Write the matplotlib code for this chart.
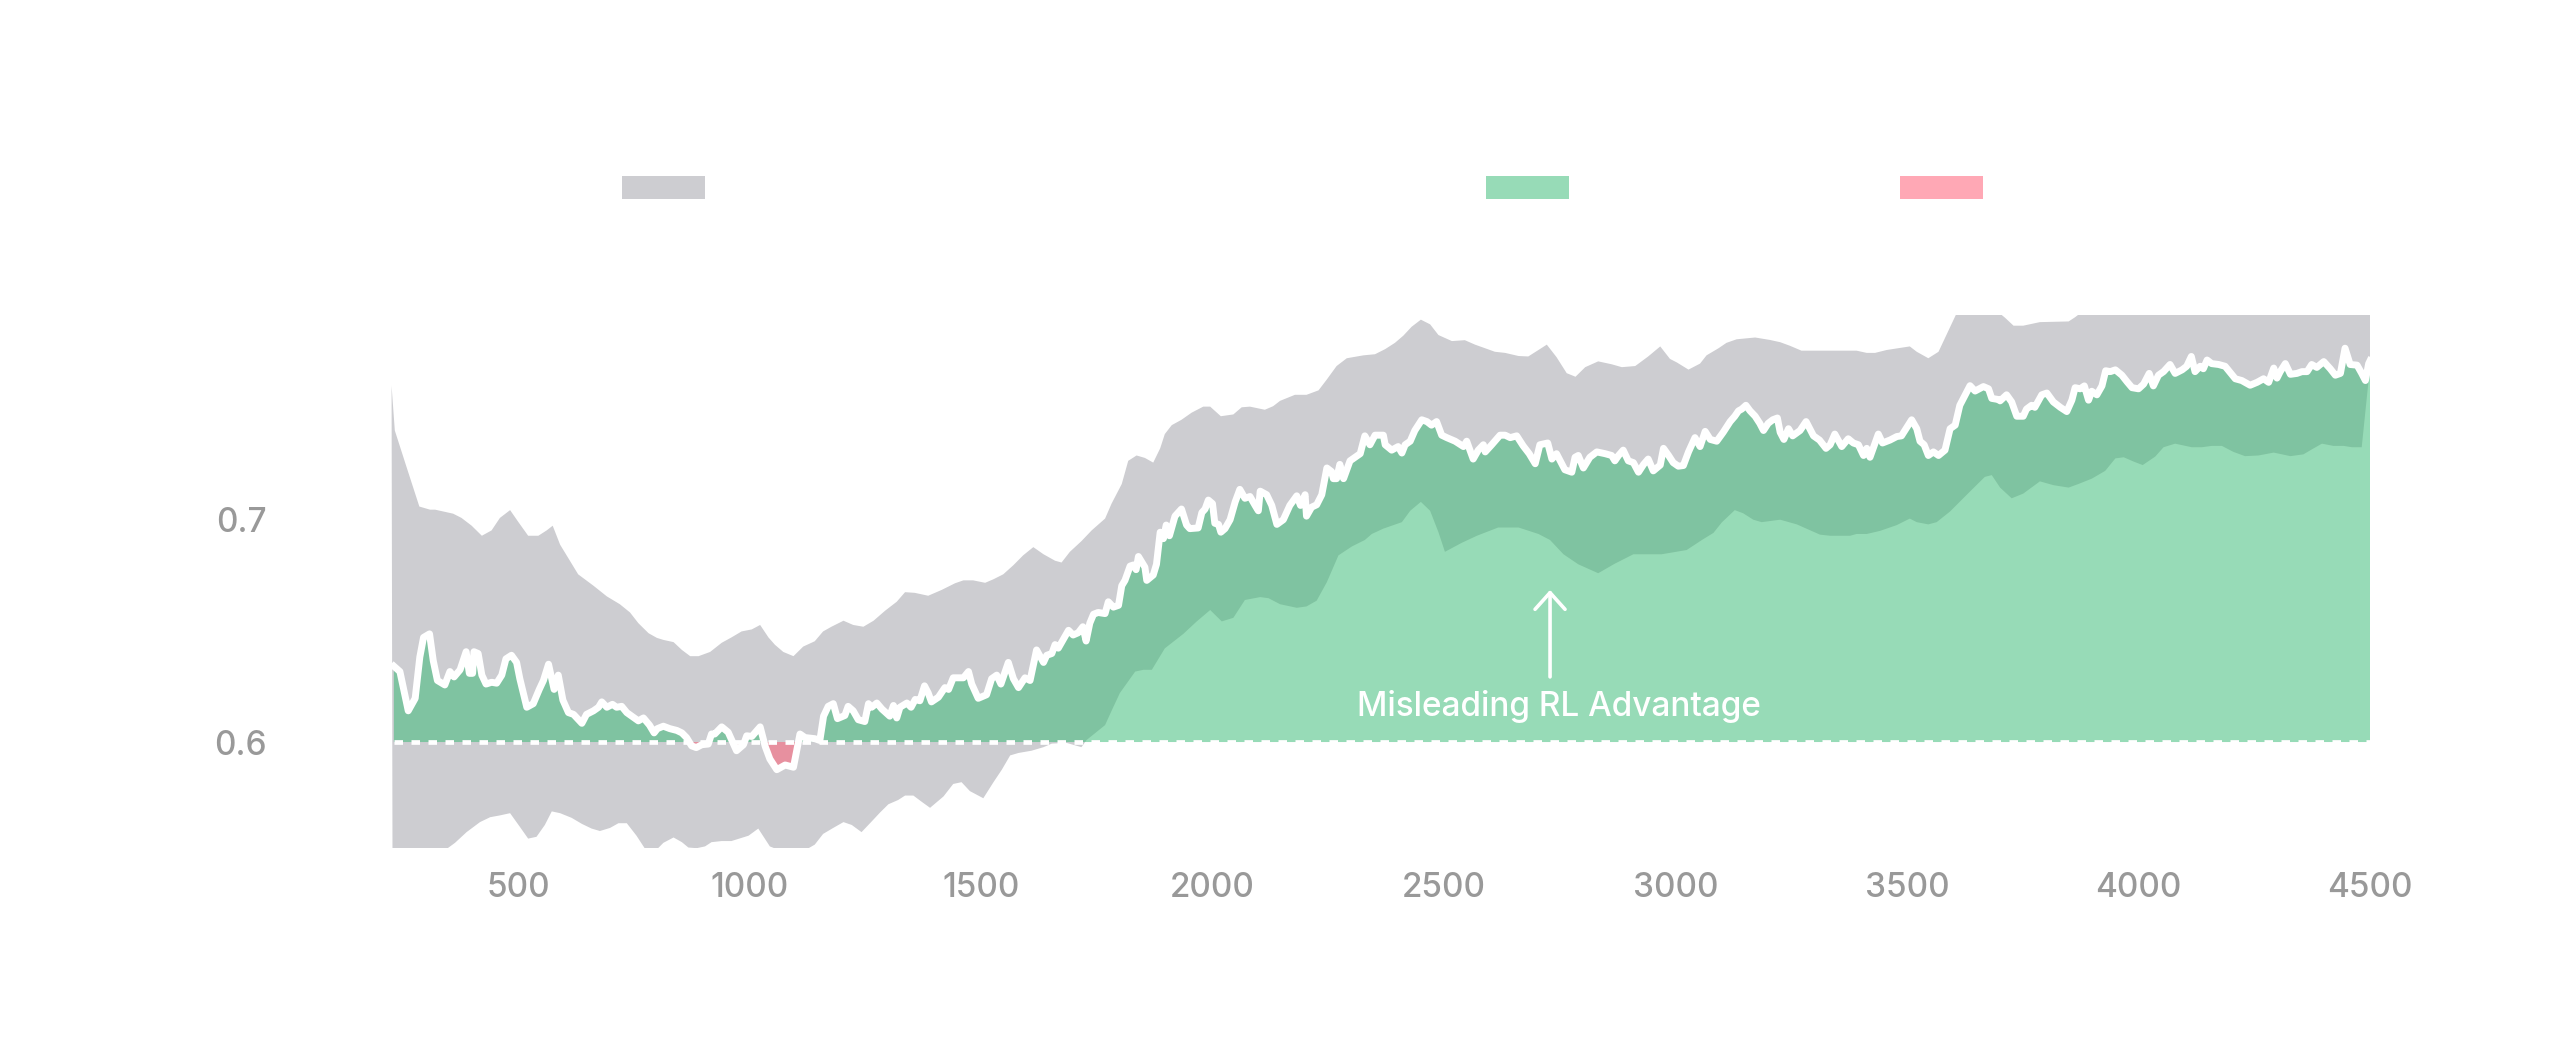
import numpy as np
import matplotlib
matplotlib.use("Agg")
import matplotlib.pyplot as plt

plt.rcParams['font.family'] = ['Inter', 'DejaVu Sans']

# RL run score (white line)
steps = [232, 245, 263, 278, 288, 296, 309, 317, 326, 342, 353, 362, 375, 388, 395, 402, 405, 414,
         422, 431, 443, 454, 465, 474, 486, 497, 504, 519, 533, 546, 555, 566, 578, 587, 597, 609,
         620, 638, 648, 663, 674, 681, 692, 704, 713, 724, 735, 749, 760, 771, 784, 794, 801, 814,
         828, 843, 854, 864, 875, 885, 897, 911, 918,
         925, 940, 954, 972, 987, 994, 1005, 1023, 1034, 1044, 1059, 1077, 1095, 1109, 1120, 1141,
         1152, 1160, 1170, 1181, 1190, 1206, 1213, 1224, 1235, 1249, 1257, 1264, 1275, 1286, 1303,
         1311, 1318, 1325, 1340, 1349, 1358, 1368, 1378, 1386, 1393, 1408, 1422, 1430, 1440, 1462,
         1473, 1480, 1494, 1512, 1523, 1534, 1543, 1559, 1570, 1581, 1595, 1606, 1620, 1635, 1642,
         1653, 1660,
         1667, 1678, 1689, 1699, 1710, 1720, 1727, 1735, 1743, 1753, 1768, 1775, 1786, 1797, 1804,
         1811, 1822, 1829, 1835, 1840, 1854, 1858, 1872, 1879, 1887, 1894, 1900, 1907, 1919, 1933,
         1944, 1951, 1969, 1977, 1984, 1991, 2000, 2005, 2013, 2018, 2027, 2038, 2049, 2059, 2070,
         2081, 2092, 2099, 2103, 2117, 2128, 2139, 2153, 2167, 2182, 2190, 2200, 2203, 2214, 2225,
         2236, 2247, 2257, 2261, 2268, 2275, 2283, 2297, 2308, 2319, 2329, 2340, 2351, 2369,
         2373, 2387, 2401, 2409, 2416, 2427, 2437, 2452, 2463, 2473, 2484, 2495, 2506, 2524, 2542,
         2549, 2563, 2574, 2585, 2589, 2603, 2621, 2632, 2643, 2657, 2671, 2684, 2697, 2707, 2724,
         2733, 2743, 2751, 2761, 2776, 2783, 2790, 2801, 2815, 2830, 2848, 2862, 2869, 2877, 2887,
         2898, 2909, 2920, 2931, 2941, 2952, 2967, 2974, 2985, 2995, 3006, 3017, 3028, 3042, 3053,
         3064, 3075, 3089, 3103,
         3118, 3128, 3136, 3143, 3152, 3161, 3172, 3182, 3190, 3200, 3210, 3220, 3226, 3234, 3244,
         3253, 3269, 3282, 3298, 3311, 3325, 3334, 3344, 3359, 3373, 3384, 3395, 3406, 3413, 3420,
         3438, 3447, 3463, 3478, 3488, 3510, 3521, 3528, 3537, 3546, 3557, 3568, 3582, 3593, 3604,
         3614, 3636, 3647, 3665, 3676, 3683, 3697, 3701, 3715, 3726, 3737, 3751, 3758, 3769, 3776,
         3791, 3802, 3816,
         3831, 3845, 3856, 3863, 3874, 3883, 3892, 3899, 3910, 3921, 3929, 3939, 3950, 3964, 3975,
         3986, 4000, 4011, 4023, 4032, 4043, 4054, 4068, 4079, 4094, 4104, 4114, 4122, 4133, 4140,
         4148, 4158, 4173, 4187, 4209, 4223, 4241, 4256, 4270, 4281, 4292, 4299, 4306, 4317, 4328,
         4342, 4353, 4364, 4374, 4385, 4400, 4414, 4425, 4436, 4446, 4457, 4472, 4482, 4490, 4497,
         4500]
score = [0.6340, 0.6316, 0.6140, 0.6196, 0.6381, 0.6469, 0.6485, 0.6365, 0.6276, 0.6256, 0.6316,
         0.6292, 0.6324, 0.6405, 0.6308, 0.6308, 0.6405, 0.6397, 0.6300, 0.6260, 0.6268, 0.6264,
         0.6300, 0.6373, 0.6389, 0.6357, 0.6284, 0.6156, 0.6172, 0.6236, 0.6276, 0.6349, 0.6236,
         0.6300, 0.6188, 0.6132, 0.6124, 0.6084, 0.6124, 0.6140, 0.6156, 0.6180, 0.6156, 0.6169,
         0.6156, 0.6160, 0.6132, 0.6111, 0.6095, 0.6108, 0.6076, 0.6041, 0.6060, 0.6071, 0.6060,
         0.6052, 0.6041, 0.6020, 0.5983, 0.5975, 0.5988, 0.5991, 0.6036,
         0.6036, 0.6068, 0.6044, 0.5961, 0.5988, 0.6028, 0.6025, 0.6068, 0.5980, 0.5924, 0.5876,
         0.5897, 0.5887, 0.6036, 0.6020, 0.6015, 0.6007, 0.6116, 0.6160, 0.6172, 0.6105, 0.6119,
         0.6160, 0.6140, 0.6100, 0.6092, 0.6172, 0.6156, 0.6175, 0.6148, 0.6116, 0.6164, 0.6108,
         0.6156, 0.6175, 0.6156, 0.6191, 0.6185, 0.6252, 0.6220, 0.6180, 0.6201, 0.6244, 0.6236,
         0.6288, 0.6288, 0.6316, 0.6260, 0.6196, 0.6212, 0.6284, 0.6300, 0.6260, 0.6357, 0.6284,
         0.6244, 0.6288, 0.6276, 0.6413, 0.6357, 0.6389, 0.6397, 0.6437,
         0.6421, 0.6461, 0.6501, 0.6480, 0.6490, 0.6517, 0.6453, 0.6533, 0.6573, 0.6581, 0.6576,
         0.6629, 0.6605, 0.6613, 0.6701, 0.6725, 0.6789, 0.6794, 0.6773, 0.6832, 0.6784, 0.6725,
         0.6749, 0.6797, 0.6941, 0.6912, 0.6973, 0.6925, 0.7013, 0.7045, 0.6973, 0.6957, 0.6960,
         0.7029, 0.7045, 0.7085, 0.7069, 0.6981, 0.6976, 0.6941, 0.6957, 0.6997, 0.7077, 0.7133,
         0.7093, 0.7101, 0.7061, 0.7037, 0.7125, 0.7109, 0.7061, 0.6976, 0.6997, 0.7061, 0.7104,
         0.7061, 0.7109, 0.7013, 0.7053, 0.7064, 0.7109, 0.7229, 0.7213, 0.7181, 0.7181, 0.7245,
         0.7181, 0.7261, 0.7277, 0.7293, 0.7373, 0.7333, 0.7376, 0.7376,
         0.7333, 0.7309, 0.7325, 0.7296, 0.7333, 0.7349, 0.7397, 0.7445, 0.7437, 0.7421, 0.7437,
         0.7376, 0.7365, 0.7349, 0.7325, 0.7349, 0.7269, 0.7309, 0.7333, 0.7301, 0.7333, 0.7376,
         0.7376, 0.7365, 0.7373, 0.7328, 0.7293, 0.7248, 0.7333, 0.7341, 0.7269, 0.7293, 0.7261,
         0.7221, 0.7210, 0.7277, 0.7285, 0.7229, 0.7277, 0.7301, 0.7293, 0.7285, 0.7261, 0.7285,
         0.7309, 0.7261, 0.7253, 0.7210, 0.7245, 0.7269, 0.7216, 0.7242, 0.7317, 0.7285, 0.7253,
         0.7237, 0.7240, 0.7301, 0.7365, 0.7325, 0.7393, 0.7357, 0.7349, 0.7389,
         0.7437, 0.7461, 0.7485, 0.7493, 0.7510, 0.7485, 0.7461, 0.7429, 0.7397, 0.7429, 0.7445,
         0.7453, 0.7389, 0.7357, 0.7405, 0.7373, 0.7397, 0.7437, 0.7373, 0.7354, 0.7317, 0.7333,
         0.7381, 0.7325, 0.7360, 0.7341, 0.7333, 0.7285, 0.7317, 0.7277, 0.7381, 0.7341, 0.7354,
         0.7370, 0.7373, 0.7445, 0.7405, 0.7349, 0.7333, 0.7285, 0.7301, 0.7285, 0.7309, 0.7405,
         0.7421, 0.7510, 0.7598, 0.7574, 0.7594, 0.7584, 0.7541, 0.7536, 0.7530, 0.7557, 0.7525,
         0.7461, 0.7461, 0.7493, 0.7510, 0.7501, 0.7557, 0.7565, 0.7525,
         0.7501, 0.7482, 0.7533, 0.7589, 0.7584, 0.7597, 0.7533, 0.7573, 0.7557, 0.7597, 0.7665,
         0.7661, 0.7669, 0.7645, 0.7616, 0.7589, 0.7584, 0.7605, 0.7653, 0.7597, 0.7645, 0.7661,
         0.7693, 0.7653, 0.7669, 0.7685, 0.7729, 0.7661, 0.7685, 0.7674, 0.7713, 0.7697, 0.7693,
         0.7685, 0.7629, 0.7621, 0.7600, 0.7613, 0.7629, 0.7613, 0.7677, 0.7632, 0.7661, 0.7697,
         0.7649, 0.7653, 0.7661, 0.7661, 0.7693, 0.7680, 0.7706, 0.7674, 0.7645, 0.7653, 0.7766,
         0.7693, 0.7690, 0.7653, 0.7621, 0.7697, 0.7710]

# baseline noise band, upper edge
band_up_x = [227, 234, 260, 287, 310, 321, 360, 378, 400, 422, 443, 461, 483, 501, 522, 544, 562,
             575, 591, 630, 663, 692, 720, 742, 760, 782, 800, 814, 836, 854, 872, 890, 915,
             940, 961, 983, 1005, 1023, 1041, 1055, 1073, 1095, 1116, 1141, 1159, 1177, 1203, 1224,
             1246, 1268, 1293, 1318, 1336, 1357, 1386, 1415, 1444, 1462, 1483, 1509, 1527, 1548,
             1570, 1591, 1613, 1635, 1660,
             1674, 1692, 1717, 1739, 1768, 1782, 1804, 1818, 1836, 1854, 1872, 1887, 1897, 1912,
             1933, 1955, 1980, 1995, 2018, 2045, 2063, 2081, 2113, 2131, 2146, 2178, 2203, 2229,
             2247, 2268, 2290, 2326, 2351, 2373, 2394,
             2412, 2430, 2450, 2470, 2488, 2517, 2545, 2567, 2610, 2632, 2661, 2682, 2704, 2722,
             2743, 2765, 2784, 2805, 2833, 2862, 2884, 2913, 2941, 2967, 2988, 3003, 3028, 3053,
             3067, 3093,
             3110, 3132, 3172, 3204, 3226, 3247, 3272, 3319, 3391, 3413, 3431, 3456, 3506, 3521,
             3546, 3568, 3611, 3690, 3712, 3730, 3751, 3787, 3849, 3863, 3885, 4000, 4200, 4400,
             4500]
band_up = [0.7598, 0.7397, 0.7229, 0.7056, 0.7042, 0.7042, 0.7024, 0.7005, 0.6970, 0.6925, 0.6949,
           0.7005, 0.7040, 0.6986, 0.6925, 0.6925, 0.6949, 0.6970, 0.6885, 0.6752, 0.6701, 0.6653,
           0.6618, 0.6581, 0.6533, 0.6488, 0.6467, 0.6458, 0.6448, 0.6413, 0.6385, 0.6385, 0.6404,
           0.6445, 0.6469, 0.6496, 0.6505, 0.6525, 0.6469, 0.6436, 0.6404, 0.6385, 0.6428, 0.6452,
           0.6496, 0.6517, 0.6544, 0.6525, 0.6517, 0.6544, 0.6589, 0.6629, 0.6672, 0.6669, 0.6656,
           0.6682, 0.6712, 0.6725, 0.6725, 0.6714, 0.6730, 0.6752, 0.6793, 0.6837, 0.6874, 0.6842,
           0.6813,
           0.6805, 0.6853, 0.6901, 0.6949, 0.7002, 0.7069, 0.7157, 0.7261, 0.7285, 0.7274, 0.7253,
           0.7317, 0.7381, 0.7421, 0.7445, 0.7477, 0.7504, 0.7504, 0.7461, 0.7469, 0.7501, 0.7504,
           0.7490, 0.7506, 0.7530, 0.7557, 0.7557, 0.7577, 0.7626, 0.7686, 0.7721, 0.7734, 0.7739,
           0.7762, 0.7790,
           0.7822, 0.7862, 0.7894, 0.7873, 0.7825, 0.7798, 0.7802, 0.7782, 0.7750, 0.7745, 0.7731,
           0.7729, 0.7758, 0.7782, 0.7726, 0.7654, 0.7638, 0.7681, 0.7707, 0.7694, 0.7681, 0.7686,
           0.7729, 0.7774, 0.7718, 0.7702, 0.7670, 0.7697, 0.7734, 0.7766,
           0.7790, 0.7806, 0.7814, 0.7803, 0.7793, 0.7777, 0.7755, 0.7755, 0.7755, 0.7745, 0.7745,
           0.7758, 0.7774, 0.7750, 0.7721, 0.7750, 0.7940, 0.7940, 0.7902, 0.7867, 0.7867, 0.7883,
           0.7886, 0.7905, 0.7940, 0.7950, 0.7950, 0.7950, 0.7950]

# baseline noise band, lower edge
band_lo_x = [229, 339, 364, 389, 418, 440, 461, 483, 504, 522, 540, 558, 573, 591, 616, 638, 659,
             677, 699, 717, 735, 756, 778, 796, 814, 836, 854, 868, 886, 904, 918,
             940, 961, 998, 1019, 1044, 1070, 1116, 1141, 1159, 1181, 1203, 1221, 1242, 1264, 1282,
             1300, 1321, 1336, 1354, 1372, 1390, 1419, 1440, 1458, 1476, 1505, 1527, 1545, 1563,
             1581, 1609, 1635, 1653,
             1685, 1717, 1728, 1768, 1782, 1800, 1833, 1851, 1869, 1897, 1937, 1966, 1995, 2020,
             2045, 2070, 2103, 2121, 2146, 2182, 2203, 2225, 2247, 2272, 2301, 2329, 2344, 2369,
             2409, 2427, 2450, 2470, 2488, 2502, 2538, 2571, 2617, 2661, 2704, 2729, 2758, 2790,
             2833, 2869, 2909, 2970, 3024, 3057, 3082,
             3100, 3128, 3146, 3168, 3186, 3226, 3262, 3312, 3334, 3377, 3391, 3413, 3442, 3478,
             3506, 3521, 3546, 3564, 3593, 3629, 3668, 3683, 3701, 3726, 3751, 3787, 3816,
             3849, 3870, 3899, 3928, 3950, 3968, 3989, 4009, 4036, 4054, 4079, 4115, 4137, 4158,
             4180, 4205, 4230, 4259, 4292, 4328, 4356, 4374, 4396, 4421, 4443, 4461, 4482, 4500]
band_lo = [0.5510, 0.5510, 0.5548, 0.5596, 0.5641, 0.5663, 0.5671, 0.5681, 0.5620, 0.5567, 0.5575,
           0.5628, 0.5689, 0.5681, 0.5660, 0.5633, 0.5612, 0.5601, 0.5615, 0.5636, 0.5636, 0.5580,
           0.5510, 0.5510, 0.5548, 0.5572, 0.5551, 0.5527, 0.5524, 0.5532, 0.5551,
           0.5556, 0.5556, 0.5580, 0.5612, 0.5532, 0.5510, 0.5510, 0.5540, 0.5588, 0.5615, 0.5641,
           0.5628, 0.5596, 0.5644, 0.5684, 0.5721, 0.5740, 0.5760, 0.5760, 0.5732, 0.5705, 0.5756,
           0.5812, 0.5820, 0.5780, 0.5748, 0.5820, 0.5876, 0.5940, 0.5951, 0.5961, 0.5977, 0.5993,
           0.5996, 0.5977, 0.6009, 0.6076, 0.6140, 0.6220, 0.6316, 0.6324, 0.6324, 0.6420, 0.6485,
           0.6541, 0.6592, 0.6541, 0.6557, 0.6637, 0.6650, 0.6645, 0.6618, 0.6602, 0.6608, 0.6634,
           0.6717, 0.6837, 0.6877, 0.6906, 0.6933, 0.6957,
           0.6986, 0.7037, 0.7077, 0.7037, 0.6941, 0.6853, 0.6893, 0.6925, 0.6962, 0.6962, 0.6933,
           0.6906, 0.6842, 0.6797, 0.6757, 0.6800, 0.6842, 0.6842, 0.6861, 0.6906, 0.6938,
           0.6985, 0.7040, 0.7026, 0.6997, 0.6986, 0.6997, 0.6976, 0.6930, 0.6925, 0.6925, 0.6933,
           0.6933, 0.6947, 0.6973, 0.7002, 0.6986, 0.6976, 0.6986, 0.7034, 0.7109, 0.7189, 0.7197,
           0.7141, 0.7093, 0.7114, 0.7169, 0.7152,
           0.7141, 0.7157, 0.7181, 0.7216, 0.7272, 0.7277, 0.7258, 0.7242, 0.7280, 0.7322, 0.7338,
           0.7322, 0.7322, 0.7328, 0.7328, 0.7301, 0.7282, 0.7285, 0.7298, 0.7282, 0.7290, 0.7312,
           0.7338, 0.7328, 0.7328, 0.7322, 0.7322, 0.7686]

BASELINE = 0.6
x_ticks = [500, 1000, 1500, 2000, 2500, 3000, 3500, 4000, 4500]
y_ticks = [0.6, 0.7]
legend_labels = ["Baseline noise range", "RL advantage", "RL disadvantage"]

GRAY = "#cdcdd1"
GREEN = "#39ba75"
PINK = "#ff5871"
TICK = "#999999"

steps = np.array(steps)
score = np.array(score)

fig = plt.figure(figsize=(25.6, 10.43), dpi=100)
ax = fig.add_axes([0.1119, 0.187, 0.8139, 0.511])

band = ax.fill(np.r_[band_up_x, band_lo_x[::-1]], np.r_[band_up, band_lo[::-1]],
               color=GRAY, lw=0, zorder=1)[0]
adv = ax.fill_between(steps, BASELINE, score, where=score >= BASELINE, interpolate=True,
                      color=GREEN, alpha=0.52, lw=0, zorder=2)
dis = ax.fill_between(steps, BASELINE, score, where=score <= BASELINE, interpolate=True,
                      color=PINK, alpha=0.52, lw=0, zorder=2)
ax.hlines(BASELINE, steps[0], steps[-1], colors="white", lw=3.4, linestyles=(0, (1.8, 1.8)),
          zorder=3)
ax.plot(steps, score, color="white", lw=5, zorder=4)

# annotation
ax.annotate("", xy=(2729, 0.6682), xytext=(2729, 0.6292),
            arrowprops=dict(arrowstyle="->,head_length=0.4,head_width=0.36", color="white",
                            lw=2.6, mutation_scale=30, shrinkA=0, shrinkB=0), zorder=5)
ax.text(2748, 0.6116, "Misleading RL Advantage", ha="center", va="baseline", color="white",
        fontsize=24, fontweight="medium", zorder=5)

ax.set_xlim(0, 4500)
ax.set_ylim(0.5525, 0.7915)
ax.set_xticks(x_ticks)
ax.set_yticks(y_ticks)
ax.set_yticklabels([f"{v:.1f}" for v in y_ticks])
ax.tick_params(length=0, labelsize=24, labelcolor=TICK)
for lab in ax.get_xticklabels() + ax.get_yticklabels():
    lab.set_fontweight("medium")
ax.tick_params(axis="x", pad=17)
ax.tick_params(axis="y", pad=14)
for s in ax.spines.values():
    s.set_visible(False)

# legend: patches only, labels drawn in white
for h, lbl, x in zip([band, adv, dis], legend_labels, [0.2430, 0.5805, 0.7422]):
    fig.legend([h], [lbl], loc="center left", bbox_to_anchor=(x, 0.8178), frameon=False,
               borderpad=0, borderaxespad=0, handlelength=2.49, handleheight=0.72,
               fontsize=24, labelcolor="white")

fig.savefig("out.png", dpi=100)
